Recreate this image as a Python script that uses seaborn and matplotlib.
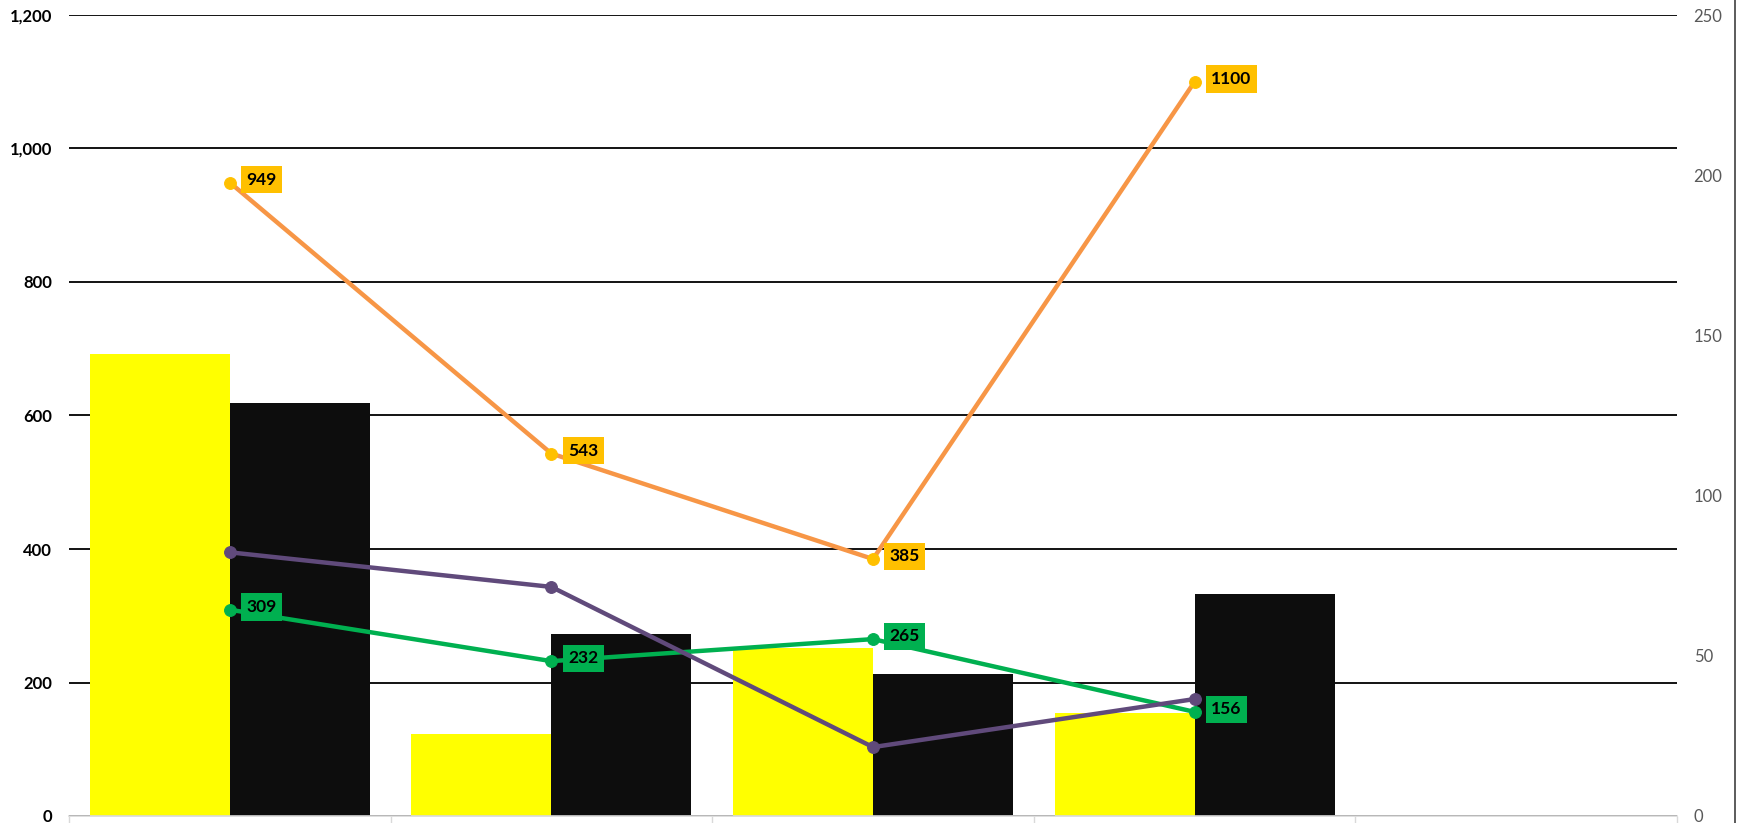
import numpy as np
import pandas as pd
import seaborn as sns
import matplotlib.pyplot as plt
from matplotlib.lines import Line2D

# data
categories = ["C1", "C2", "C3", "C4", "C5"]
bar_yellow = [692, 123, 252, 155, np.nan]
bar_black = [618, 273, 212, 333, np.nan]
orange_vals = [949, 543, 385, 1100]
green_vals = [309, 232, 265, 156]
purple_vals = [82.3, 71.5, 21.5, 36.5]   # right axis

sns.set_theme(style="white")
plt.rcParams['font.family'] = ['Lato', 'DejaVu Sans']

W, H = 1744, 823
fig = plt.figure(figsize=(W / 100, H / 100), dpi=100)
ax = fig.add_axes([69 / W, 1 - 816 / H, (1677 - 69) / W, (816 - 15) / H])

bars = pd.DataFrame({
    "cat": categories * 2,
    "series": ["yellow"] * 5 + ["black"] * 5,
    "value": bar_yellow + bar_black,
})
sns.barplot(data=bars, x="cat", y="value", hue="series",
            palette={"yellow": "#FFFF00", "black": "#0D0D0D"},
            width=0.871, gap=0, saturation=1, linewidth=0,
            legend=False, ax=ax, zorder=2)

xs = list(range(len(orange_vals)))
lines = pd.DataFrame({"x": xs, "orange": orange_vals, "green": green_vals,
                      "purple": purple_vals})

sns.lineplot(data=lines, x="x", y="orange", color="#F79646", lw=3.2,
             marker="o", markersize=8.5, markerfacecolor="#FFC000",
             markeredgecolor="#FFC000", ax=ax, zorder=4)
sns.lineplot(data=lines, x="x", y="green", color="#00B050", lw=3.2,
             marker="o", markersize=8.5, markerfacecolor="#00B050",
             markeredgecolor="#00B050", ax=ax, zorder=4)

for x, v in zip(xs, orange_vals):
    ax.annotate(str(v), (x, v), xytext=(12, 2), textcoords="offset points",
                ha="left", va="center", fontsize=12.5, fontweight="bold",
                color="black", zorder=6,
                bbox=dict(boxstyle="square,pad=0.32", fc="#FFC000", ec="none"))
for x, v in zip(xs, green_vals):
    ax.annotate(str(v), (x, v), xytext=(12, 2), textcoords="offset points",
                ha="left", va="center", fontsize=12.5, fontweight="bold",
                color="black", zorder=6,
                bbox=dict(boxstyle="square,pad=0.32", fc="#00B050", ec="none"))

ax.set_xlim(-0.5, 4.5)
ax.set_ylim(0, 1200)
ax.set_yticks(range(0, 1201, 200))
ax.set_yticklabels([f"{v:,}" for v in range(0, 1201, 200)],
                   fontweight="bold", fontsize=12, color="black")
ax.tick_params(axis="y", length=0, pad=12)
ax.grid(axis="y", color="black", lw=1.3, zorder=0)
ax.set_axisbelow(True)
ax.set_xlabel("")
ax.set_ylabel("")
ax.set_xticks([])
ax.set_xticks(np.arange(-0.5, 4.6, 1), minor=True)
ax.tick_params(axis="x", which="minor", length=7, width=1, color="#D9D9D9",
               direction="out", bottom=True)
for s in ["top", "left", "right"]:
    ax.spines[s].set_visible(False)
ax.spines["bottom"].set_color("#D9D9D9")
ax.spines["bottom"].set_linewidth(1.2)
ax.spines["bottom"].set_zorder(3)

ax2 = ax.twinx()
sns.lineplot(data=lines, x="x", y="purple", color="#604A7B", lw=3.2,
             marker="o", markersize=8.5, markerfacecolor="#604A7B",
             markeredgecolor="#604A7B", ax=ax2, zorder=4)
ax2.set_ylim(0, 250)
ax2.set_yticks(range(0, 251, 50))
ax2.set_yticklabels([str(v) for v in range(0, 251, 50)], fontsize=12,
                    color="#595959")
ax2.tick_params(axis="y", length=0, pad=12)
ax2.set_xlabel("")
ax2.set_ylabel("")
ax2.grid(False)
for s in ax2.spines.values():
    s.set_visible(False)
ax2.set_xlim(-0.5, 4.5)

# chart border on the right edge
fig.add_artist(Line2D([1735 / W] * 2, [0, 1], color="#404040", lw=1.2))

fig.savefig("out.png", dpi=100)
